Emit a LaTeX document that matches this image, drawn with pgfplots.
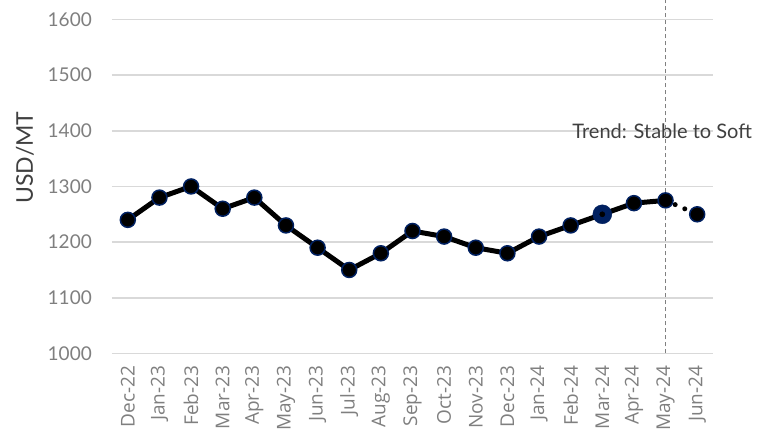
\documentclass[border=0pt]{standalone}
\usepackage{fontspec}
\setmainfont{Lato}
\newfontfamily\xfont{Open Sans}
\usepackage{pgfplots}
\pgfplotsset{compat=1.18}
\definecolor{navy}{HTML}{002060}
\definecolor{gridgray}{HTML}{D9D9D9}
\definecolor{ticktext}{HTML}{7F7F7F}
\definecolor{labeltext}{HTML}{404040}
\begin{document}
\begin{tikzpicture}
\begin{axis}[
    name=ax, at={(0,0)}, anchor=south west,
    scale only axis, width=601bp, height=353bp,
    xmin=-0.5, xmax=18.5, ymin=1000, ymax=1634,
    ytick={1000,1100,1200,1300,1400,1500,1600},
    xtick={0,...,18},
    xticklabels={Dec-22,Jan-23,Feb-23,Mar-23,Apr-23,May-23,Jun-23,Jul-23,Aug-23,Sep-23,Oct-23,Nov-23,Dec-23,Jan-24,Feb-24,Mar-24,Apr-24,May-24,Jun-24},
    axis line style={draw=none},
    ymajorgrids, major grid style={gridgray, line width=1.5bp},
    major tick length=0pt,
    /pgf/number format/assume math mode=true,
    /pgf/number format/1000 sep={},
    yticklabel style={font=\fontsize{19bp}{22bp}\selectfont, text=ticktext, inner sep=0pt, anchor=east, xshift=-20bp},
    xticklabel style={font=\xfont\fontsize{19bp}{22bp}\selectfont, text=ticktext, inner sep=0pt, rotate=90, anchor=east, xshift=-12bp},
    ylabel={USD/MT},
    ylabel style={font=\fontsize{23bp}{26bp}\selectfont, text=labeltext, at={(axis description cs:-0.145,0.555)}, anchor=center},
    clip=false,
]
\addplot[gray, line width=1bp, dash pattern=on 4bp off 3bp] coordinates {(17,1000) (17,1634)};
\addplot[black, line width=5bp, line cap=round, dash pattern=on 0pt off 10.5bp] coordinates {(17,1275) (18,1250)};
\addplot[black, line width=5bp, mark=*, mark size=7.5bp,
    mark options={fill=black, draw=navy, line width=1.5bp, solid}] coordinates {
    (0,1240) (1,1280) (2,1300) (3,1260) (4,1280) (5,1230) (6,1190)
    (7,1150) (8,1180) (9,1220) (10,1210) (11,1190) (12,1180) (13,1210)
    (14,1230) (15,1250) (16,1270) (17,1275)
};
\addplot[only marks, mark=*, mark size=7.5bp,
    mark options={fill=black, draw=navy, line width=1.5bp}] coordinates {(18,1250)};
\addplot[only marks, mark=*, mark size=9.5bp,
    mark options={fill=navy, draw=navy}] coordinates {(15,1250)};
\addplot[only marks, mark=*, mark size=2.6bp,
    mark options={fill=black, draw=black}] coordinates {(15,1250)};
\node[anchor=west, text=labeltext, font=\fontsize{20bp}{24bp}\selectfont, inner sep=0pt] at (axis cs:14.05,1399) {Trend: Stable to Soft};
\end{axis}
\path ([xshift=-112bp,yshift=-77bp]ax.south west) rectangle ++(759bp,430bp);
\end{tikzpicture}
\end{document}
